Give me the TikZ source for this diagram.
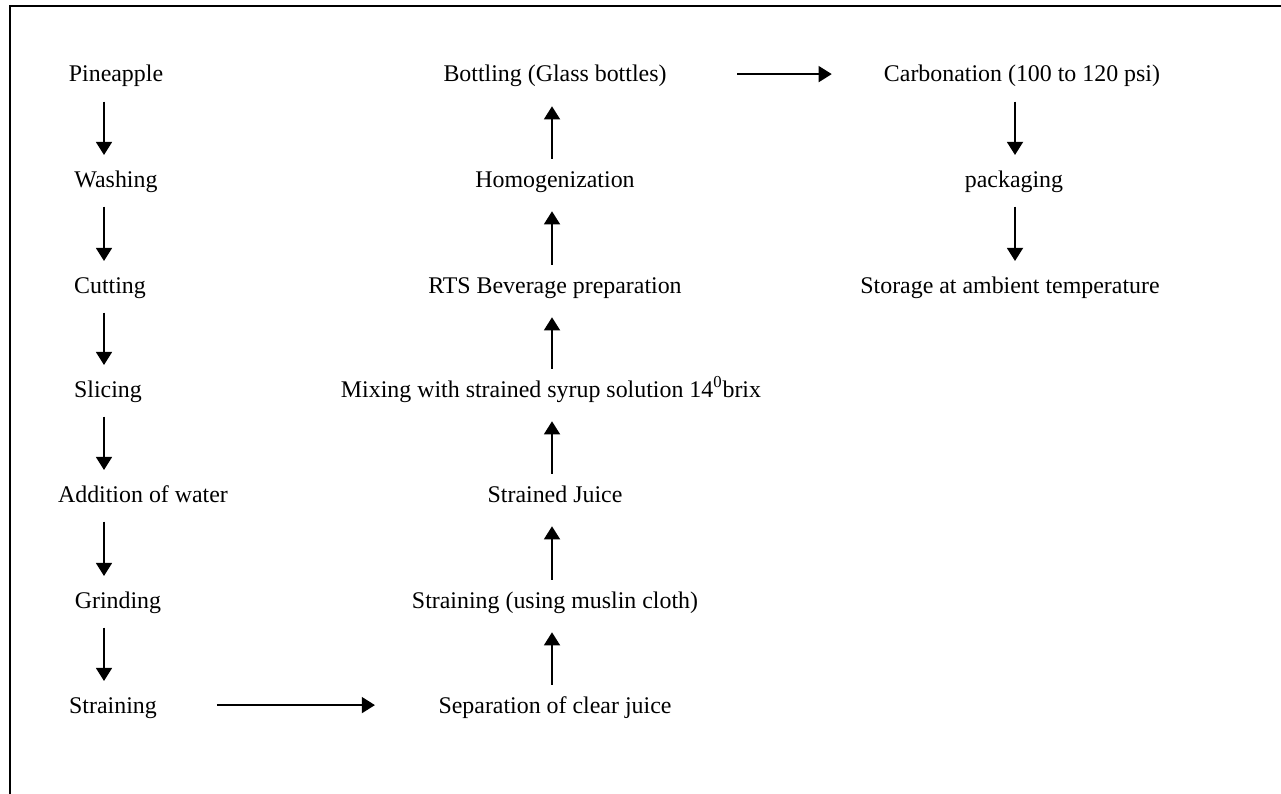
\documentclass[tikz,border=0pt]{standalone}
\usepackage{fontspec}
\setmainfont{Liberation Serif}
\usetikzlibrary{arrows.meta}

\begin{document}
\begin{tikzpicture}[x=0.02cm, y=-0.02cm,
        stage/.style={inner sep=0pt, anchor=base, text height=9pt, text depth=0pt,
            font=\fontsize{13.6}{16}\selectfont},
        flow/.style={line width=1.4pt, -{Triangle[length=7.5pt,width=9pt]}},
        down/.style={flow, shorten <=11pt, shorten >=9pt},
        up/.style={flow, shorten <=6.8pt, shorten >=13.6pt}]
            \useasboundingbox (0,0) rectangle (1281,794);

            % open frame, top and left only
            \draw [line width=1.4pt] (10,794) -- (10,6) -- (1281,6);

            \coordinate (colL) at (104,0);
            \coordinate (colM) at (552,0);
            \coordinate (colR) at (1015,0);

            % first column
            \node [stage] (pine) at (116,82) {Pineapple};
            \node [stage] (wash) at (116,187) {Washing};
            \node [stage] (cut) at (110,293) {Cutting};
            \node [stage] (slice) at (108,397) {Slicing};
            \node [stage] (water) at (143,502) {Addition of water};
            \node [stage] (grind) at (118,608) {Grinding};
            \node [stage] (strain) at (113,713) {Straining};

            % second column
            \node [stage] (sep) at (555,713) {Separation of clear juice};
            \node [stage] (muslin) at (555,608) {Straining (using muslin cloth)};
            \node [stage] (juice) at (555,502) {Strained Juice};
            \node [stage] (mix) at (551,397) {Mixing with strained syrup solution 14\textsuperscript{0}brix};
            \node [stage] (rts) at (555,293) {RTS Beverage preparation};
            \node [stage] (homo) at (555,187) {Homogenization};
            \node [stage] (bottle) at (555,82) {Bottling (Glass bottles)};

            % third column
            \node [stage] (carb) at (1022,82) {Carbonation (100 to 120 psi)};
            \node [stage] (pack) at (1014,187) {packaging};
            \node [stage] (store) at (1010,293) {Storage at ambient temperature};

            \draw [down] (pine.south -| colL) -- (wash.north -| colL);
            \draw [down] (wash.south -| colL) -- (cut.north -| colL);
            \draw [down] (cut.south -| colL) -- (slice.north -| colL);
            \draw [down] (slice.south -| colL) -- (water.north -| colL);
            \draw [down] (water.south -| colL) -- (grind.north -| colL);
            \draw [down] (grind.south -| colL) -- (strain.north -| colL);

            \draw [flow, shorten <=34pt, shorten >=36pt] (strain.east) -- (sep.west);

            \draw [up] (sep.north -| colM) -- (muslin.south -| colM);
            \draw [up] (muslin.north -| colM) -- (juice.south -| colM);
            \draw [up] (juice.north -| colM) -- (mix.south -| colM);
            \draw [up] (mix.north -| colM) -- (rts.south -| colM);
            \draw [up] (rts.north -| colM) -- (homo.south -| colM);
            \draw [up] (homo.north -| colM) -- (bottle.south -| colM);

            \draw [flow, shorten <=40pt, shorten >=29.5pt] (bottle.east) -- (carb.west);

            \draw [down] (carb.south -| colR) -- (pack.north -| colR);
            \draw [down] (pack.south -| colR) -- (store.north -| colR);
        \end{tikzpicture}
\end{document}
